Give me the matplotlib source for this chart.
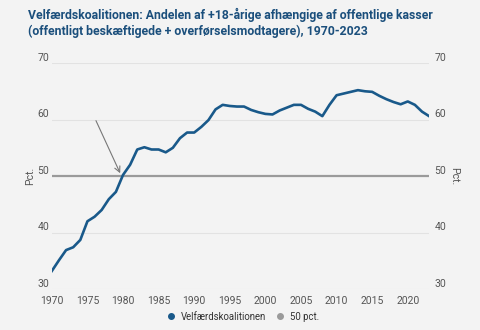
import matplotlib
matplotlib.use("Agg")
import matplotlib.pyplot as plt
from matplotlib.lines import Line2D
import matplotlib.transforms as mtransforms

years = list(range(1970, 2024))
values = [33.2, 35.1, 36.9, 37.4, 38.7, 42.0, 42.8, 44.0, 45.9, 47.2,
          50.2, 52.0, 54.7, 55.1, 54.7, 54.7, 54.2, 55.0, 56.7, 57.7,
          57.7, 58.7, 59.9, 61.8, 62.6, 62.4, 62.3, 62.3, 61.7, 61.3,
          61.0, 60.9, 61.6, 62.1, 62.6, 62.6, 61.9, 61.4, 60.6, 62.6,
          64.3, 64.6, 64.9, 65.2, 65.0, 64.9, 64.2, 63.6, 63.1, 62.7,
          63.2, 62.6, 61.4, 60.6]
ref_value = 50
yticks = [30, 40, 50, 60, 70]
xticks = [1970, 1975, 1980, 1985, 1990, 1995, 2000, 2005, 2010, 2015, 2020]
title = ("Velfærdskoalitionen: Andelen af +18-årige afhængige af offentlige kasser\n"
         "(offentligt beskæftigede + overførselsmodtagere), 1970-2023")
series_name = "Velfærdskoalitionen"
ref_name = "50 pct."

plt.rcParams['font.family'] = ['Roboto', 'DejaVu Sans']

bg = "#f3f3f3"
blue = "#19598a"
gray = "#9a9a9a"
txt = "#555555"

fig = plt.figure(figsize=(4.8, 3.3), dpi=100, facecolor=bg)
ax = fig.add_axes([0.108, 0.124, 0.786, 0.685], facecolor=bg)

for t in yticks:
    if t != ref_value:
        ax.axhline(t, color="#e2e2e2", lw=0.8, zorder=1)
ax.axhline(ref_value, color=gray, lw=1.6, zorder=2)
ax.plot(years, values, color=blue, lw=1.9, zorder=3, solid_joinstyle='round')

ax.set_xlim(1970, 2023)
ax.set_ylim(30, 70)
ax.set_yticks(yticks)
ax.set_xticks(xticks)
ax.tick_params(axis='both', length=0, labelsize=7.5, colors=txt)
ax.tick_params(axis='y', pad=2)
ax.tick_params(axis='x', pad=5)
for s in ax.spines.values():
    s.set_visible(False)
ax.set_ylabel("Pct.", fontsize=7.5, color=txt, labelpad=1.5)

ax2 = ax.twinx()
ax2.set_ylim(30, 70)
ax2.set_yticks(yticks)
ax2.tick_params(axis='y', length=0, labelsize=7.5, colors=txt, pad=4)
for s in ax2.spines.values():
    s.set_visible(False)
ax2.set_ylabel("Pct.", fontsize=7.5, color=txt, rotation=270, labelpad=9)

up = mtransforms.ScaledTranslation(0, 4.5 / 72, fig.dpi_scale_trans)
for lab in ax.get_yticklabels() + ax2.get_yticklabels():
    lab.set_transform(lab.get_transform() + up)

ax.annotate("", xy=(1979.6, 50.5), xytext=(1976.2, 59.8),
            arrowprops=dict(arrowstyle="->", color="#777777", lw=0.8,
                            shrinkA=0, shrinkB=0), zorder=4)

fig.text(0.058, 0.975, title, fontsize=8.8, fontweight='bold', color="#1b4f7c",
         va='top', ha='left', linespacing=1.25)

handles = [Line2D([], [], marker='o', ls='none', color=blue, markersize=4),
           Line2D([], [], marker='o', ls='none', color=gray, markersize=4)]
fig.legend(handles, [series_name, ref_name], loc='center', bbox_to_anchor=(0.5, 0.04),
           ncol=2, frameon=False, fontsize=6.9, handletextpad=0.0, columnspacing=0.5,
           labelcolor="#333333")

fig.savefig("out.png", dpi=100, facecolor=bg)
